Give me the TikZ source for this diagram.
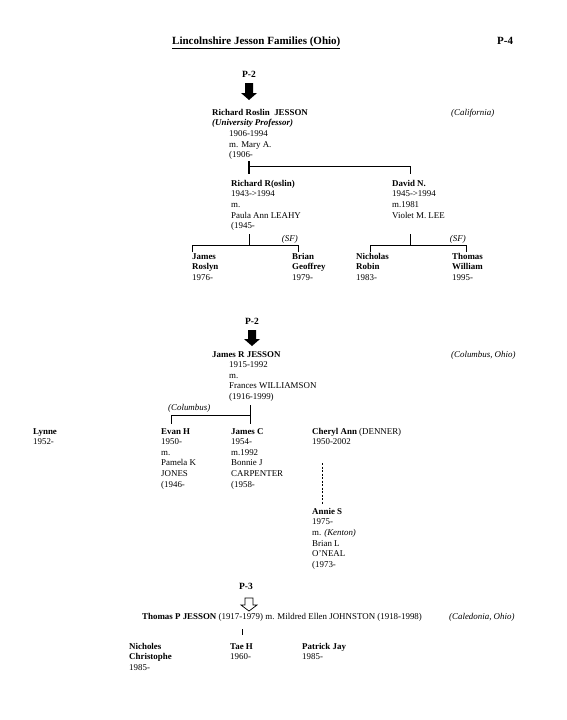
\documentclass[tikz,border=0pt]{standalone}
\usepackage{fontspec}
\setmainfont{Liberation Serif}
\usetikzlibrary{calc}
\begin{document}
\begin{tikzpicture}[x=1pt,y=-1pt,
  txt/.style={anchor=north west,inner sep=0pt,align=left,font=\fontsize{8.9}{10.6}\selectfont},
  txtr/.style={anchor=north east,inner sep=0pt,align=right,font=\fontsize{8.9}{10.6}\selectfont},
  ttl/.style={anchor=base west,inner sep=0pt,font=\fontsize{11}{12}\selectfont\bfseries},
  pref/.style={anchor=base,inner sep=0pt,font=\fontsize{9.5}{10.5}\selectfont\bfseries},
  bar/.style={line width=0.85pt},
  stem/.style={line width=1.5pt},
  dline/.style={line width=0.8pt,dash pattern=on 2pt off 1.5pt}]
\useasboundingbox[fill=white] (0,0) rectangle (567,720);

% title
\node[ttl] (title) at (172,44) {\underline{Lincolnshire Jesson Families (Ohio)}};
\node[ttl] (p4) at (497,44) {P-4};

% ===== section 1 =====
\node[pref] (p2a) at (249,77) {P-2};
\coordinate (a1) at (249,83);
\fill (a1) ++(-4,0) -- ++(8,0) -- ++(0,10) -- ++(4,0) -- ++(-8,7) -- ++(-8,-7) -- ++(4,0) -- cycle;

\node[txt] (rrj) at (212,109) {\textbf{Richard Roslin\ \ JESSON}\\\textbf{\textit{(University Professor)}}\\
\hspace*{17pt}1906-1994\\\hspace*{17pt}m. Mary A.\\\hspace*{17pt}(1906-};
\node[txt] (cal) at (451,109) {\textit{(California)}};

\coordinate (s1t) at (249,161);
\coordinate (s1b) at (249,174);
\coordinate (s1j) at (249,166);
\coordinate (s1r) at (410,166);
\coordinate (s1rb) at (410,174);
\draw[stem] (s1t) -- (s1b);
\draw[bar] (s1j) -- (s1r) -- (s1rb);

\node[txt] (rr) at (231,180) {\textbf{Richard R(oslin)}\\1943->1994\\m.\\Paula Ann LEAHY\\(1945-};
\node[txt] (dn) at (392,180) {\textbf{David N.}\\1945->1994\\m.1981\\Violet M. LEE};

% Richard R children bar
\coordinate (r1t) at (249,234);
\coordinate (r1j) at (249,245);
\coordinate (r1l) at (192,245);
\coordinate (r1r) at (298,245);
\coordinate (r1lb) at (192,252);
\coordinate (r1rb) at (298,252);
\draw[bar] (r1t) -- (r1j);
\draw[bar] (r1lb) -- (r1l) -- (r1r) -- (r1rb);
\node[txtr] (sf1) at (298,235) {\textit{(SF)}};

% David children bar
\coordinate (d1t) at (410,234);
\coordinate (d1j) at (410,245);
\coordinate (d1l) at (370,245);
\coordinate (d1r) at (466,245);
\coordinate (d1lb) at (370,252);
\coordinate (d1rb) at (466,252);
\draw[bar] (d1t) -- (d1j);
\draw[bar] (d1lb) -- (d1l) -- (d1r) -- (d1rb);
\node[txtr] (sf2) at (466,235) {\textit{(SF)}};

\node[txt] (jr) at (192,253) {\textbf{James}\\\textbf{Roslyn}\\1976-};
\node[txt] (bg) at (292,253) {\textbf{Brian}\\\textbf{Geoffrey}\\1979-};
\node[txt] (nr) at (356,253) {\textbf{Nicholas}\\\textbf{Robin}\\1983-};
\node[txt] (tw) at (452,253) {\textbf{Thomas}\\\textbf{William}\\1995-};

% ===== section 2 =====
\node[pref] (p2b) at (252,324) {P-2};
\coordinate (a2) at (252,330);
\fill (a2) ++(-4,0) -- ++(8,0) -- ++(0,9) -- ++(4,0) -- ++(-8,7) -- ++(-8,-7) -- ++(4,0) -- cycle;

\node[txt] (jrj) at (212,351) {\textbf{James R JESSON}\\
\hspace*{17pt}1915-1992\\\hspace*{17pt}m.\\\hspace*{17pt}Frances WILLIAMSON\\\hspace*{17pt}(1916-1999)};
\node[txt] (col) at (451,351) {\textit{(Columbus, Ohio)}};

\node[txt] (colb) at (168,404) {\textit{(Columbus)}};
\coordinate (c1t) at (250,405);
\coordinate (c1j) at (250,415);
\coordinate (c1b) at (250,424);
\coordinate (c1l) at (171,415);
\coordinate (c1lb) at (171,424);
\draw[bar] (c1t) -- (c1b);
\draw[bar] (c1j) -- (c1l) -- (c1lb);

\node[txt] (ly) at (33,428) {\textbf{Lynne}\\1952-};
\node[txt] (eh) at (161,428) {\textbf{Evan H}\\1950-\\m.\\Pamela K\\JONES\\(1946-};
\node[txt] (jc) at (231,428) {\textbf{James C}\\1954-\\m.1992\\Bonnie J\\CARPENTER\\(1958-};
\node[txt] (ca) at (312,428) {\textbf{Cheryl Ann} (DENNER)\\1950-2002};

\coordinate (dt) at (322,463);
\coordinate (db) at (322,505);
\draw[dline] (dt) -- (db);

\node[txt] (as) at (312,508) {\textbf{Annie S}\\1975-\\m. \textit{(Kenton)}\\Brian L\\O'NEAL\\(1973-};

% ===== section 3 =====
\node[pref] (p3) at (246,589) {P-3};
\coordinate (a3) at (249,598);
\draw[line width=0.7pt] (a3) ++(-4,0) -- ++(8,0) -- ++(0,7) -- ++(4,0) -- ++(-8,6) -- ++(-8,-6) -- ++(4,0) -- cycle;

\node[txt] (tpj) at (142,613) {\textbf{Thomas P JESSON} (1917-1979) m. Mildred Ellen JOHNSTON (1918-1998)};
\node[txt] (cdo) at (449,613) {\textit{(Caledonia, Ohio)}};

\coordinate (tt) at (242,629);
\coordinate (tb) at (242,635);
\draw[bar] (tt) -- (tb);

\node[txt] (nc) at (129,643) {\textbf{Nicholes}\\\textbf{Christophe}\\1985-};
\node[txt] (th) at (230,643) {\textbf{Tae H}\\1960-};
\node[txt] (pj) at (302,643) {\textbf{Patrick Jay}\\1985-};
\end{tikzpicture}
\end{document}
